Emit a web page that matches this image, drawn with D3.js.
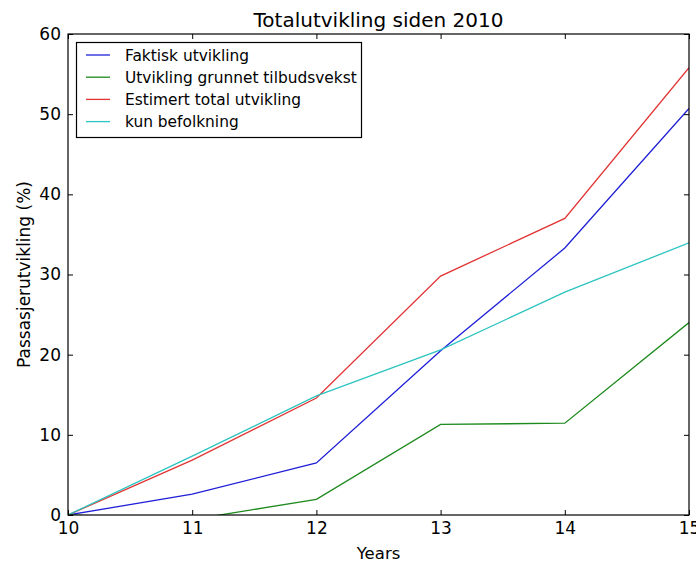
<!DOCTYPE html>
<html>
<head>
<meta charset="utf-8">
<script src="https://cdn.jsdelivr.net/npm/d3@7"></script>
<style>
  body { margin: 0; background: #fff; }
  svg { display: block; font-family: "DejaVu Sans", sans-serif; }
</style>
</head>
<body>
<svg id="chart" width="696" height="562"></svg>
<script>
// Passenger growth since 2010, percent
const years = [10, 11, 12, 13, 14, 15];
const faktisk = [0, 2.6, 6.5, 20.5, 33.3, 50.7];
const tilbudsvekst = [0, -0.56, 1.95, 11.3, 11.45, 24.0];
const estimert = [0, 6.85, 14.6, 29.8, 37.0, 55.8];
const befolkning = [0, 7.35, 14.85, 20.6, 27.8, 33.95];
const seriesNames = ["Faktisk utvikling", "Utvikling grunnet tilbudsvekst", "Estimert total utvikling", "kun befolkning"];
const seriesColors = ["#1f1fd8", "#1e8a1e", "#e23333", "#2cc4c0"];
const xTicks = [10, 11, 12, 13, 14, 15];
const yTicks = [0, 10, 20, 30, 40, 50, 60];

const series = [faktisk, tilbudsvekst, estimert, befolkning];

const svg = d3.select("#chart");
const m = { left: 68, right: 7, top: 34, bottom: 47 };
const W = 696, H = 562;
const x = d3.scaleLinear().domain([10, 15]).range([m.left, W - m.right]);
const y = d3.scaleLinear().domain([0, 60]).range([H - m.bottom, m.top]);

svg.append("defs").append("clipPath").attr("id", "plotclip")
  .append("rect")
  .attr("x", x(10)).attr("y", y(60))
  .attr("width", x(15) - x(10)).attr("height", y(0) - y(60));

// data lines
const line = d3.line().x((d, i) => x(years[i])).y(d => y(d));
const lines = svg.append("g").attr("clip-path", "url(#plotclip)");
series.forEach((s, k) => {
  lines.append("path")
    .datum(s)
    .attr("d", line)
    .attr("fill", "none")
    .attr("stroke", seriesColors[k])
    .attr("stroke-width", 1.3);
});

// axes with inward ticks on all four sides
const tickLen = 5;
const fmt = d3.format("d");
const axB = svg.append("g").attr("transform", `translate(0,${y(0)})`)
  .call(d3.axisBottom(x).tickValues(xTicks).tickFormat(fmt).tickSizeInner(-tickLen).tickSizeOuter(0).tickPadding(7));
const axT = svg.append("g").attr("transform", `translate(0,${y(60)})`)
  .call(d3.axisTop(x).tickValues(xTicks).tickFormat("").tickSizeInner(-tickLen).tickSizeOuter(0));
const axL = svg.append("g").attr("transform", `translate(${x(10)},0)`)
  .call(d3.axisLeft(y).tickValues(yTicks).tickFormat(fmt).tickSizeInner(-tickLen).tickSizeOuter(0).tickPadding(7));
const axR = svg.append("g").attr("transform", `translate(${x(15)},0)`)
  .call(d3.axisRight(y).tickValues(yTicks).tickFormat("").tickSizeInner(-tickLen).tickSizeOuter(0));

[axB, axT, axL, axR].forEach(a => {
  a.select(".domain").remove();
  a.selectAll("line").attr("stroke", "#000").attr("stroke-width", 1);
  a.selectAll("text").attr("fill", "#000").style("font-size", "17px").style("font-family", "DejaVu Sans, sans-serif");
});

// frame
svg.append("rect")
  .attr("x", x(10)).attr("y", y(60))
  .attr("width", x(15) - x(10)).attr("height", y(0) - y(60))
  .attr("fill", "none").attr("stroke", "#000").attr("stroke-width", 1.2);

// title and axis labels
svg.append("text")
  .attr("x", (x(10) + x(15)) / 2).attr("y", 27)
  .attr("text-anchor", "middle")
  .style("font-size", "20px")
  .text("Totalutvikling siden 2010");

svg.append("text")
  .attr("x", (x(10) + x(15)) / 2).attr("y", 559)
  .attr("text-anchor", "middle")
  .style("font-size", "16.5px")
  .text("Years");

svg.append("text")
  .attr("transform", `translate(30,${(y(0) + y(60)) / 2}) rotate(-90)`)
  .attr("text-anchor", "middle")
  .style("font-size", "17px")
  .text("Passasjerutvikling (%)");

// legend
const lg = svg.append("g");
lg.append("rect")
  .attr("x", 76.5).attr("y", 42.5)
  .attr("width", 285).attr("height", 95)
  .attr("fill", "#fff").attr("stroke", "#000").attr("stroke-width", 1.2);
seriesNames.forEach((name, k) => {
  const cy = 55 + k * 22.2;
  lg.append("line")
    .attr("x1", 86).attr("x2", 110).attr("y1", cy).attr("y2", cy)
    .attr("stroke", seriesColors[k]).attr("stroke-width", 1.3);
  lg.append("text")
    .attr("x", 125).attr("y", cy).attr("dy", "0.37em")
    .style("font-size", "15.4px")
    .text(name);
});
</script>
</body>
</html>
